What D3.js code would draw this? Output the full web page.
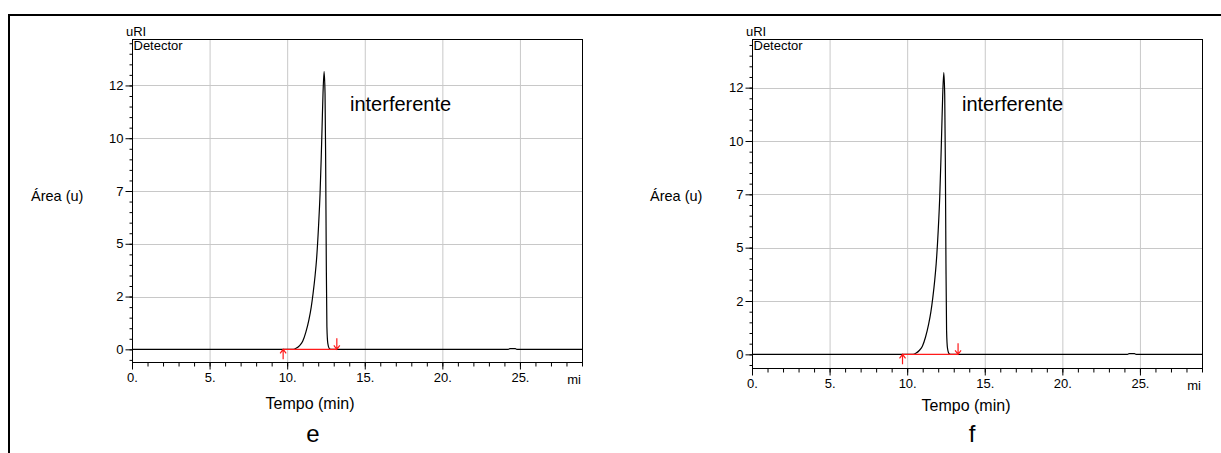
<!DOCTYPE html>
<html>
<head>
<meta charset="utf-8">
<script src="https://cdn.jsdelivr.net/npm/d3@7/dist/d3.min.js"></script>
<style>
  body { margin: 0; background: #fff; }
  svg { display: block; font-family: "Liberation Sans", Arial, sans-serif; }
</style>
</head>
<body>
<svg width="1221" height="453"></svg>
<script>
// chromatogram e
const timeE   = [0, 10.0, 10.4, 10.6, 10.8, 11.0, 11.2, 11.4, 11.55, 11.67, 11.8, 11.89, 12.02, 12.12, 12.19, 12.25, 12.31, 12.38, 12.44, 12.48, 12.52, 12.56, 12.62, 12.73, 12.85, 24.25, 24.35, 24.7, 24.8, 29];
const signalE = [0, 0,    0.0,  0.06, 0.18, 0.38, 0.8,  1.39, 2.0,   2.65,  3.5,  4.23,  5.81,  7.39,  8.97,  10.55, 12.13, 13.16, 12.13, 8.97,  4.23,  1.07,  0.28,  0.03,  0,     0,     0.03,  0.03, 0,    0];
// chromatogram f
const timeF   = [0, 10.0, 10.38, 10.58, 10.78, 10.98, 11.18, 11.38, 11.53, 11.65, 11.78, 11.87, 12.0, 12.1, 12.17, 12.23, 12.29, 12.36, 12.42, 12.46, 12.5, 12.54, 12.6, 12.71, 12.85, 24.2, 24.3, 24.65, 24.75, 29];
const signalF = [0, 0,    0.0,   0.06,  0.18,  0.38,  0.8,   1.4,   2.0,   2.65,  3.5,   4.25,  5.8,  7.4,  9.0,   10.6,  12.15, 13.2,  12.15, 9.0,   4.25, 1.1,   0.28, 0.03,  0,     0,    0.03, 0.03,  0,     0];

const xTicks = [0, 5, 10, 15, 20, 25];
const xTickLabels = ["0.", "5.", "10.", "15.", "20.", "25."];
const yTicks = [0, 2.5, 5, 7.5, 10, 12.5];
const yTickLabels = ["0", "2", "5", "7", "10", "12"];

// integration marks (start, end) in min
const integE = [9.74, 13.2];
const integF = [9.7, 13.28];

const panels = [
  { letter: "e", time: timeE, signal: signalE, integ: integE,
    left: 132, right: 582, top: 39, bottom: 362, yMin: -0.6, yMax: 14.7,
    areaX: 31, interfX: 350, tempoX: 310, tempoY: 409, letterX: 313, uriX: 126 },
  { letter: "f", time: timeF, signal: signalF, integ: integF,
    left: 752, right: 1202, top: 39, bottom: 368, yMin: -0.64, yMax: 14.78,
    areaX: 650, interfX: 962, tempoX: 966, tempoY: 411, letterX: 972, uriX: 746 }
];

const svg = d3.select("svg");

// outer frame
svg.append("line").attr("x1", 8).attr("x2", 1221).attr("y1", 15).attr("y2", 15)
  .attr("stroke", "#000").attr("stroke-width", 2);
svg.append("line").attr("x1", 9).attr("x2", 9).attr("y1", 14).attr("y2", 453)
  .attr("stroke", "#000").attr("stroke-width", 2);

panels.forEach(p => {
  const x = d3.scaleLinear().domain([0, 29]).range([p.left, p.right]);
  const y = d3.scaleLinear().domain([p.yMin, p.yMax]).range([p.bottom, p.top]);
  const g = svg.append("g");

  // grid
  g.append("g").selectAll("line").data(xTicks.slice(1)).enter().append("line")
    .attr("x1", d => x(d) + 0.5).attr("x2", d => x(d) + 0.5)
    .attr("y1", p.top).attr("y2", p.bottom)
    .attr("stroke", "#c8c8c8").attr("stroke-width", 1);
  g.append("g").selectAll("line").data(yTicks.slice(1)).enter().append("line")
    .attr("x1", p.left).attr("x2", p.right)
    .attr("y1", d => Math.round(y(d)) + 0.5).attr("y2", d => Math.round(y(d)) + 0.5)
    .attr("stroke", "#c8c8c8").attr("stroke-width", 1);

  // frame
  g.append("rect").attr("x", p.left + 0.5).attr("y", p.top + 0.5)
    .attr("width", p.right - p.left).attr("height", p.bottom - p.top)
    .attr("fill", "none").attr("stroke", "#000").attr("stroke-width", 1);

  // y axis
  const yMinor = d3.range(-0.5, p.yMax, 0.5);
  g.append("g").attr("transform", `translate(${p.left + 0.5},0)`)
    .call(d3.axisLeft(y).tickValues(yMinor).tickSize(3).tickFormat(""))
    .call(a => a.select(".domain").remove());
  g.append("g").attr("transform", `translate(${p.left + 0.5},0)`)
    .call(d3.axisLeft(y).tickValues(yTicks).tickSize(7).tickPadding(2)
      .tickFormat((d, i) => yTickLabels[i]))
    .call(a => a.select(".domain").remove())
    .call(a => a.selectAll("text").attr("font-size", 13).attr("fill", "#000")
      .attr("font-family", "Liberation Sans, Arial, sans-serif"));

  // x axis
  g.append("g").attr("transform", `translate(0,${p.bottom + 0.5})`)
    .call(d3.axisBottom(x).tickValues(d3.range(0, 30, 1)).tickSize(4).tickFormat(""))
    .call(a => a.select(".domain").remove());
  g.append("g").attr("transform", `translate(0,${p.bottom + 0.5})`)
    .call(d3.axisBottom(x).tickValues(xTicks).tickSize(7).tickPadding(3)
      .tickFormat((d, i) => xTickLabels[i]))
    .call(a => a.select(".domain").remove())
    .call(a => a.selectAll("text").attr("font-size", 13).attr("fill", "#000")
      .attr("font-family", "Liberation Sans, Arial, sans-serif"));
  g.append("text").attr("x", p.right - 1).attr("y", p.bottom + 22)
    .attr("text-anchor", "end").attr("font-size", 13).text("mi");

  // signal
  const pts = p.time.map((t, i) => [t, p.signal[i]]);
  g.append("path").datum(pts)
    .attr("fill", "none").attr("stroke", "#000").attr("stroke-width", 1.2)
    .attr("d", d3.line().x(d => x(d[0])).y(d => y(d[1])).curve(d3.curveMonotoneX));

  // integration baseline + markers
  const y0 = y(0);
  const red = "#ff1a1a";
  g.append("line").attr("x1", x(p.integ[0])).attr("x2", x(p.integ[1]))
    .attr("y1", y0).attr("y2", y0).attr("stroke", red).attr("stroke-width", 1.3);
  const xs = x(p.integ[0]), xe = x(p.integ[1]);
  g.append("path").attr("fill", "none").attr("stroke", red).attr("stroke-width", 1.2)
    .attr("d", `M${xs},${y0 + 10}L${xs},${y0}M${xs - 3},${y0 + 4}L${xs},${y0}L${xs + 3},${y0 + 4}`);
  g.append("path").attr("fill", "none").attr("stroke", red).attr("stroke-width", 1.2)
    .attr("d", `M${xe},${y0 - 11}L${xe},${y0}M${xe - 3},${y0 - 4}L${xe},${y0}L${xe + 3},${y0 - 4}`);

  // texts
  g.append("text").attr("x", p.uriX).attr("y", 36).attr("font-size", 13).text("uRI");
  g.append("text").attr("x", p.left + 1.5).attr("y", 50).attr("font-size", 13).text("Detector");
  g.append("text").attr("x", p.areaX).attr("y", 201).attr("font-size", 14.5).text("Área (u)");
  g.append("text").attr("x", p.interfX).attr("y", 111).attr("font-size", 20).text("interferente");
  g.append("text").attr("x", p.tempoX).attr("y", p.tempoY).attr("text-anchor", "middle")
    .attr("font-size", 16).text("Tempo (min)");
  g.append("text").attr("x", p.letterX).attr("y", 442).attr("text-anchor", "middle")
    .attr("font-size", 24).text(p.letter);
});
</script>
</body>
</html>
